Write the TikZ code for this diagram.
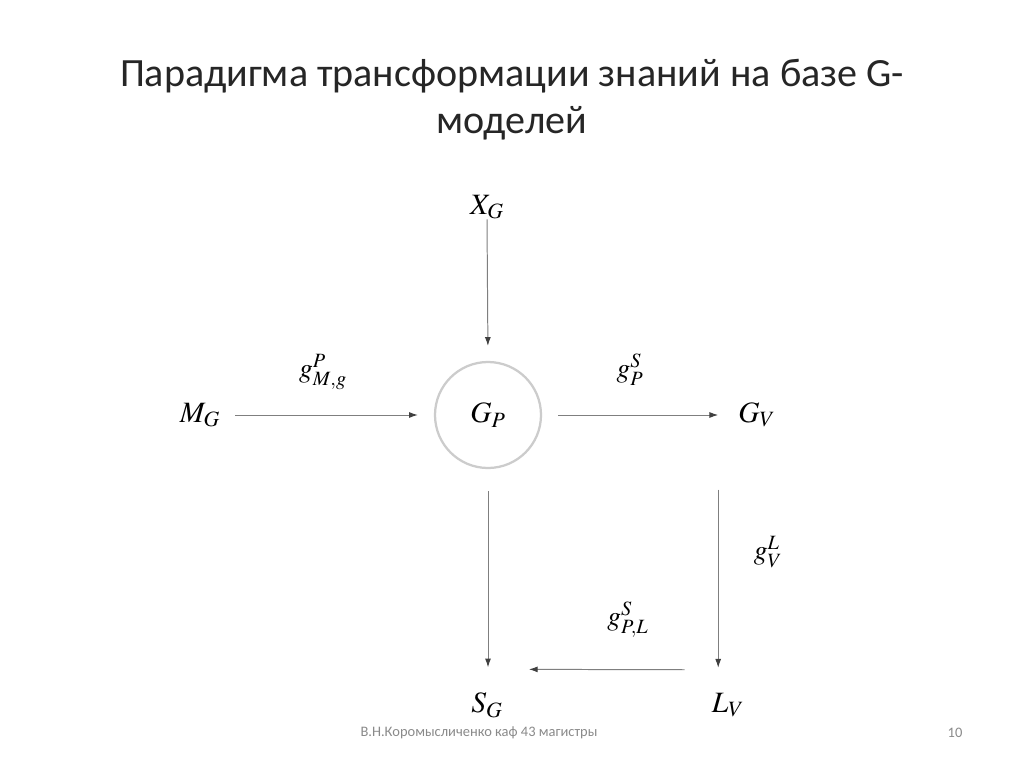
\documentclass[tikz,border=0pt]{standalone}
\usepackage{mathptmx}
\usepackage{fontspec}
\setmainfont{Carlito}
\usetikzlibrary{arrows.meta,positioning}
\definecolor{GLine}{HTML}{7F7F7F}
\definecolor{GHead}{HTML}{404040}
\definecolor{GRing}{HTML}{CCCCCC}
\definecolor{GText}{HTML}{262626}
\definecolor{GFoot}{HTML}{8A8A8A}
\tikzset{
  gtitle/.style={align=center,text=GText,inner sep=0pt,font=\fontsize{28.5}{33.5}\selectfont},
  gfoot/.style={text=GFoot,inner sep=0pt,font=\fontsize{10.3}{12}\selectfont},
  gmath/.style={inner sep=0pt,font=\fontsize{21}{24}\selectfont},
  glabel/.style={inner sep=0pt,font=\fontsize{19.5}{22}\selectfont},
  gring/.style={gmath,circle,draw=GRing,line width=1.6pt,minimum size=26.5mm},
  garrow/.style={draw=GLine,line width=0.7pt,-{Latex[length=2.2mm,width=1.5mm,fill=GHead,color=GHead]}}
}
\begin{document}
\begin{tikzpicture}[x=0.25mm,y=-0.25mm]
  \fill[white] (0,0) rectangle (1024,767);

  \node[gtitle] (title) at (512,100) {Парадигма трансформации знаний на базе G-\\моделей};

  % models
  \node[gmath] (XG) at (487,207) {$X_G$};
  \node[gring] (GP) at (488,415) {$G_P$};
  \node[gmath] (MG) at (200,415) {$M_G$};
  \node[gmath] (GV) at (757,415) {$G_V$};
  \node[gmath] (SG) at (487,705) {$S_G$};
  \node[gmath] (LV) at (728,705) {$L_V$};

  % transformations
  \node[glabel] (gPMg) at (323,372) {$g^P_{M,g}$};
  \node[glabel] (gSP) at (630,370) {$g^S_P$};
  \node[glabel] (gLV) at (768,552) {$g^L_V$};
  \node[glabel] (gSPL) at (628,620) {$g^S_{P,L}$};

  \draw[garrow,shorten >=3.75mm] (XG.south) -- (GP.north);
  \draw[garrow,shorten <=3.75mm,shorten >=4mm] (MG.east) -- (GP.west);
  \draw[garrow,shorten <=4mm,shorten >=5mm] (GP.east) -- (GV.west);
  \draw[garrow,shorten <=5.5mm,shorten >=6.25mm] (GP.south) -- (GP.south |- SG.north);
  \draw[garrow,shorten <=15.5mm,shorten >=6.25mm] ([xshift=-5mm]GV.south west) -- ([xshift=-5mm]GV.south west |- LV.north);
  \draw[garrow] ([shift={(-27,-23)}]LV.north west) -- ([shift={(26,-23)}]SG.north east);

  \node[gfoot] (author) at (479,733) {В.Н.Коромысличенко каф 43 магистры};
  \node[gfoot] (page) at (955,733) {10};
\end{tikzpicture}
\end{document}
